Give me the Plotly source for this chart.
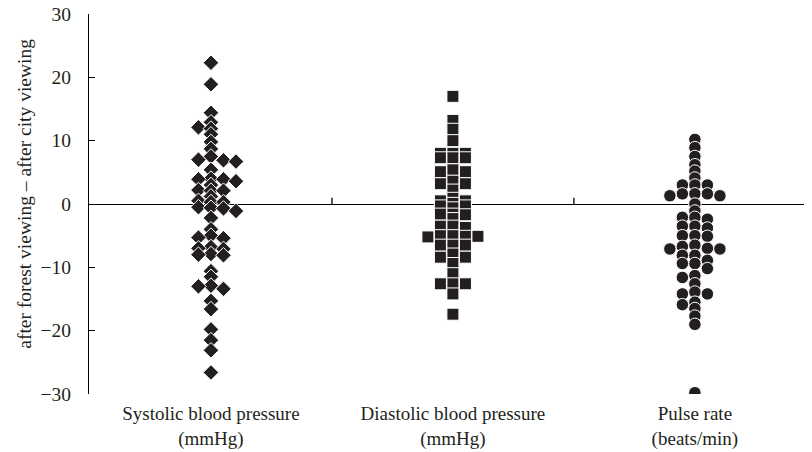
import plotly.graph_objects as go

categories = ["Systolic blood pressure<br>(mmHg)",
              "Diastolic blood pressure<br>(mmHg)",
              "Pulse rate<br>(beats/min)"]

systolic = [22.3, 18.9, 14.4,
            12.9, 12.1, 11.9,
            11.0, 9.8, 8.7,
            7.5, 7.0, 6.9, 6.7,
            5.4,
            4.0, 3.9, 3.9, 3.6,
            3.0, 2.2, 2.1, 2.1,
            1.2,
            0.5, 0.3, 0.3,
            -0.5, -0.6, -0.7, -1.1,
            -2.2, -4.0,
            -5.0, -5.3, -5.4,
            -6.8, -7.0, -7.1,
            -7.9, -8.0, -8.1,
            -10.6, -11.5,
            -12.9, -13.0, -13.4,
            -15.3, -16.6, -19.8, -21.5, -23.1, -26.6]

diastolic = [17.0, 13.2, 11.8, 10.0,
             8.0, 8.0, 8.0,
             7.3, 7.3, 7.3,
             5.4, 5.1, 5.1,
             3.6, 3.2, 3.2,
             2.2,
             0.9, 0.5, 0.5,
             0.1, -0.3, -0.3,
             -0.6,
             -1.6, -1.6, -1.7,
             -2.3,
             -3.5, -3.5, -3.7,
             -5.0, -5.0, -5.1, -5.1, -5.2,
             -6.5, -6.5, -6.5,
             -7.9, -8.4, -8.4,
             -9.4, -11.0,
             -12.6, -12.6, -12.6,
             -14.2, -17.4]

pulse = [10.2, 8.9, 7.5, 6.2, 5.2, 4.1,
         3.0, 3.0, 3.0,
         1.6, 1.6, 1.6, 1.3, 1.3,
         0.0, -1.1,
         -2.1, -2.1, -2.4,
         -3.5, -3.5, -3.8,
         -5.0, -5.0, -5.1,
         -6.5, -6.7, -7.0, -7.1, -7.1,
         -8.1, -8.1, -8.9,
         -9.4, -9.4, -10.2,
         -11.3, -11.6,
         -12.6,
         -13.9, -14.2, -14.2,
         -15.5, -15.9, -16.5,
         -17.7, -19.0, -29.8]

y_ticks = [-30, -20, -10, 0, 10, 20, 30]
y_title = "after forest viewing \u2013 after city viewing"

series = [systolic, diastolic, pulse]
symbols = ["diamond", "square", "circle"]
sizes = [12, 12, 12.5]
gaps = [0.9, 0.6, 0.9]
SLOT_W = 0.0517
MARK = "#231f20"
FONT = "Liberation Serif, Times New Roman, serif"


def swarm_slots(vals, gap, order=(0, -1, 1, 2, -2)):
    idx = sorted(range(len(vals)), key=lambda i: -vals[i])
    last = {}
    slots = [0] * len(vals)
    for i in idx:
        v = vals[i]
        chosen = None
        for s in order:
            if s not in last or last[s] - v >= gap - 1e-9:
                chosen = s
                break
        if chosen is None:
            chosen = max(order, key=lambda s: last[s] - v)
        last[chosen] = v
        slots[i] = chosen
    return slots


fig = go.Figure()
for k, vals in enumerate(series):
    slots = swarm_slots(vals, gaps[k])
    fig.add_trace(go.Scatter(
        x=[k + s * SLOT_W for s in slots], y=vals, mode="markers",
        marker=dict(symbol=symbols[k], size=sizes[k], color=MARK,
                    line=dict(color="white", width=1)),
        showlegend=False, hoverinfo="y"))

for b in (0.5, 1.5):
    fig.add_shape(type="line", xref="x", yref="y", x0=b, x1=b, y0=0, y1=1.0,
                  line=dict(color="black", width=1.3), layer="below")

# y-axis title, placed a little above the plot's centre as in the reference
fig.add_annotation(text=y_title, textangle=-90, showarrow=False,
                   xref="paper", yref="paper", x=-0.0885, y=0.527,
                   xanchor="center", yanchor="middle",
                   font=dict(family=FONT, size=19.5, color="#231f20"))

# the page body has an 8px default margin, so the figure is sized to fit the window
fig.update_layout(
    width=804, height=444,
    margin=dict(l=81, r=0, t=6, b=58),
    plot_bgcolor="white", paper_bgcolor="white",
    font=dict(family=FONT, size=19, color="#231f20"),
    xaxis=dict(range=[-0.504, 2.484], tickvals=[0, 1, 2], ticktext=categories,
               showgrid=False, zeroline=False, showline=False, ticks="",
               automargin=False, ticklabelstandoff=6, ticklabeloverflow="allow",
               tickfont=dict(size=19)),
    yaxis=dict(range=[-30, 30], tickvals=y_ticks,
               ticktext=[("\u2212%d" % -v) if v < 0 else str(v) for v in y_ticks],
               showgrid=False, zeroline=True, zerolinecolor="black", zerolinewidth=1.3,
               showline=True, linecolor="black", linewidth=1.3,
               ticks="inside", ticklen=6, tickcolor="black", tickwidth=1.3,
               automargin=False, ticklabelstandoff=13, ticklabeloverflow="allow",
               tickfont=dict(size=19.5)),
)

fig.write_html("out.html")
